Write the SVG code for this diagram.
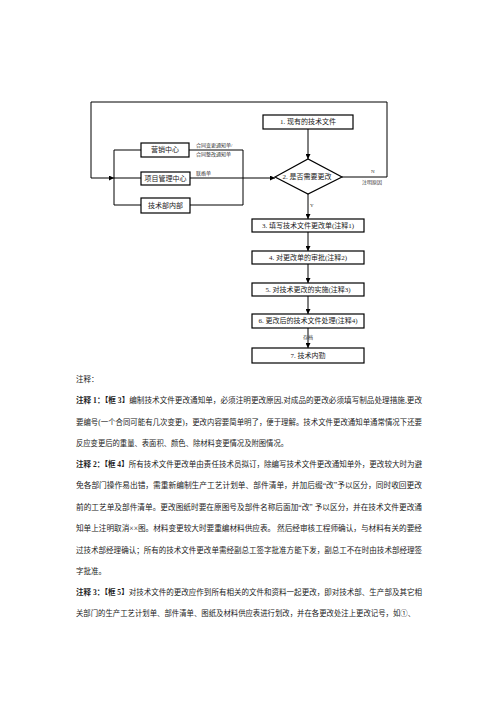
<svg xmlns="http://www.w3.org/2000/svg" width="496" height="702" viewBox="0 0 496 702">
<style>
.box{fill:#fff;stroke:#000;stroke-width:1.2}
.ln{fill:none;stroke:#000;stroke-width:1}
.t{font-family:"Liberation Serif","Noto Sans CJK SC",serif;font-size:7px;fill:#222;text-anchor:middle;dominant-baseline:central}
.s{font-family:"Liberation Serif","Noto Sans CJK SC",serif;font-size:5px;fill:#333}
.n{font-family:"Liberation Serif","Noto Sans CJK SC",serif;font-size:7.5px;fill:#222}
.b{font-weight:bold}
</style>
<defs>
<marker id="ah" viewBox="0 0 10 10" refX="10" refY="5" markerWidth="5" markerHeight="5" orient="auto" markerUnits="userSpaceOnUse">
<path d="M0,0L10,5L0,10z" fill="#000"/>
</marker>
</defs>
<rect width="496" height="702" fill="#fff"/>
<g id="connectors">
<path class="ln" d="M342,177H387V102H91V178H114" marker-end="url(#ah)"/>
<path class="ln" d="M114,150V205"/>
<path class="ln" d="M114,150H141M114,205H141M114,178H141"/>
<path class="ln" d="M189,150H243V205H190"/>
<path class="ln" d="M190,178H275" marker-end="url(#ah)"/>
<path class="ln" d="M308,129V159" marker-end="url(#ah)"/>
<path class="ln" d="M308,194V219" marker-end="url(#ah)"/>
<path class="ln" d="M308,232V251" marker-end="url(#ah)"/>
<path class="ln" d="M308,264V283" marker-end="url(#ah)"/>
<path class="ln" d="M308,296V314" marker-end="url(#ah)"/>
<path class="ln" d="M308,328V348" marker-end="url(#ah)"/>
<text class="s" x="196" y="147">合同变更通知单/</text>
<text class="s" x="196" y="156">合同整改通知单</text>
<text class="s" x="196" y="175">联络单</text>
<text class="s" x="371" y="173">N</text>
<text class="s" x="362" y="184">注明原因</text>
<text class="s" x="310" y="207">Y</text>
<text class="s" x="303" y="339">存档</text>
</g>
<g id="n1"><rect class="box" x="263" y="115" width="90" height="14"/><text class="t" x="308" y="122">1. 现有的技术文件</text></g>
<g id="n2"><path class="box" d="M275,177L308,159L342,177L308,194z"/><text class="t" x="307" y="177">2. 是否需要更改</text></g>
<g id="yx"><rect class="box" x="141" y="143" width="48" height="14"/><text class="t" x="165" y="150">营销中心</text></g>
<g id="xm"><rect class="box" x="141" y="172" width="49" height="13"/><text class="t" x="165.5" y="178.5">项目管理中心</text></g>
<g id="js"><rect class="box" x="141" y="198" width="49" height="15"/><text class="t" x="165.5" y="205.5">技术部内部</text></g>
<g id="n3"><rect class="box" x="252" y="219" width="112" height="13"/><text class="t" x="308" y="225.5">3. 填写技术文件更改单(注释1)</text></g>
<g id="n4"><rect class="box" x="252" y="251" width="112" height="13"/><text class="t" x="308" y="257.5">4. 对更改单的审批(注释2)</text></g>
<g id="n5"><rect class="box" x="252" y="283" width="112" height="13"/><text class="t" x="308" y="289.5">5. 对技术更改的实施(注释3)</text></g>
<g id="n6"><rect class="box" x="252" y="314" width="112" height="14"/><text class="t" x="308" y="321">6. 更改后的技术文件处理(注释4)</text></g>
<g id="n7"><rect class="box" x="252" y="348" width="112" height="15"/><text class="t" x="308" y="355.5">7. 技术内勤</text></g>
<g id="notes">
<text class="n" x="76" y="382">注释：</text>
<text class="n" x="76" y="403" textLength="346" lengthAdjust="spacingAndGlyphs"><tspan class="b">注释 1：【框 3】</tspan>编制技术文件更改通知单，必须注明更改原因,对成品的更改必须填写制品处理措施,更改</text>
<text class="n" x="76" y="425" textLength="346" lengthAdjust="spacingAndGlyphs">要编号(一个合同可能有几次变更)，更改内容要简单明了，便于理解。技术文件更改通知单通常情况下还要</text>
<text class="n" x="76" y="446" textLength="212" lengthAdjust="spacingAndGlyphs">反应变更后的重量、表面积、颜色、除材料变更情况及附图情况。</text>
<text class="n" x="76" y="467" textLength="346" lengthAdjust="spacingAndGlyphs"><tspan class="b">注释 2：【框 4】</tspan>所有技术文件更改单由责任技术员拟订，除编写技术文件更改通知单外，更改较大时为避</text>
<text class="n" x="76" y="488" textLength="346" lengthAdjust="spacingAndGlyphs">免各部门操作易出错，需重新编制生产工艺计划单、部件清单，并加后缀“改”予以区分，同时收回更改</text>
<text class="n" x="76" y="510" textLength="346" lengthAdjust="spacingAndGlyphs">前的工艺单及部件清单。更改图纸时要在原图号及部件名称后面加“改” 予以区分，并在技术文件更改通</text>
<text class="n" x="76" y="531" textLength="346" lengthAdjust="spacingAndGlyphs">知单上注明取消××图。材料变更较大时要重编材料供应表。 然后经审核工程师确认，与材料有关的要经</text>
<text class="n" x="76" y="553" textLength="346" lengthAdjust="spacingAndGlyphs">过技术部经理确认；所有的技术文件更改单需经副总工签字批准方能下发，副总工不在时由技术部经理签</text>
<text class="n" x="76" y="574">字批准。</text>
<text class="n" x="76" y="595" textLength="346" lengthAdjust="spacingAndGlyphs"><tspan class="b">注释 3：【框 5】</tspan>对技术文件的更改应作到所有相关的文件和资料一起更改，即对技术部、生产部及其它相</text>
<text class="n" x="76" y="616" textLength="339" lengthAdjust="spacingAndGlyphs">关部门的生产工艺计划单、部件清单、图纸及材料供应表进行划改，并在各更改处注上更改记号，如①、</text>
</g>
</svg>
